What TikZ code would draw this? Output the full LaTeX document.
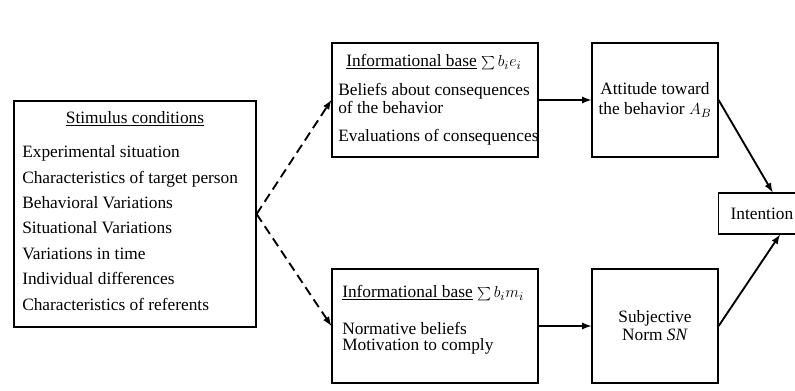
\documentclass[tikz,border=0pt]{standalone}
\usepackage{fontspec}
\setmainfont{Liberation Serif}
\usetikzlibrary{positioning,arrows}

\begin{document}
\begin{tikzpicture}[x=0.75pt, y=-0.75pt, font=\fontsize{13}{15}\selectfont,
  box/.style={draw, line width=0.9pt, inner sep=0pt},
  txt/.style={inner sep=0pt, align=left},
  dashflow/.style={-latex, line width=1.4pt, dash pattern=on 7pt off 4pt},
  flow/.style={-latex, line width=1.4pt}]
\useasboundingbox (0,0) rectangle (795,390);

\node[box, minimum width=181.5pt, minimum height=169.5pt] (stimulus) at (135, 214) {};
\node[box, minimum width=154.5pt, minimum height=85.5pt] (beliefs) at (435, 100) {};
\node[box, minimum width=154.5pt, minimum height=85.5pt] (normbeliefs) at (435, 326) {};
\node[box, minimum width=94.5pt, minimum height=85.5pt, align=center,
  font=\fontsize{13}{15}\selectfont] (attitude) at (655, 100) {Attitude toward\\the behavior $A_B$};
\node[box, minimum width=94.5pt, minimum height=85.5pt, align=center,
  font=\fontsize{13}{13.5}\selectfont] (norm) at (655, 326) {Subjective\\Norm \textit{SN}};
\node[box, anchor=west, minimum height=30.75pt, inner xsep=9pt] (intention) at (718, 213.5) {Intention};

\node[txt] (stimtitle) at (135, 119) {\underline{Stimulus conditions}};
\node[txt, anchor=west, font=\fontsize{13}{19.1}\selectfont] (stimlist) at (22, 228) {Experimental situation\\Characteristics of target person\\Behavioral Variations\\Situational Variations\\Variations in time\\Individual differences\\Characteristics of referents};

\node[txt, anchor=west] (beliefstitle) at (346, 62) {\underline{Informational base} $\sum b_ie_i$};
\node[txt, anchor=west, font=\fontsize{13}{13.5}\selectfont] (beliefslist) at (338, 114) {Beliefs about consequences\\of the behavior\\[7.5pt]Evaluations of consequences};

\node[txt, anchor=west] (normtitle) at (342, 293) {\underline{Informational base} $\sum b_im_i$};
\node[txt, anchor=west, font=\fontsize{13}{12}\selectfont] (normlist) at (342, 338) {Normative beliefs\\Motivation to comply};

\draw[dashflow] (stimulus.east) -- (beliefs.west);
\draw[dashflow] (stimulus.east) -- (normbeliefs.west);
\draw[flow] (beliefs.east) -- (attitude.west);
\draw[flow] (normbeliefs.east) -- (norm.west);
\draw[flow] (attitude.east) -- ([xshift=41pt]intention.north west);
\draw[flow] (norm.east) -- ([xshift=46.5pt]intention.south west);
\end{tikzpicture}
\end{document}
